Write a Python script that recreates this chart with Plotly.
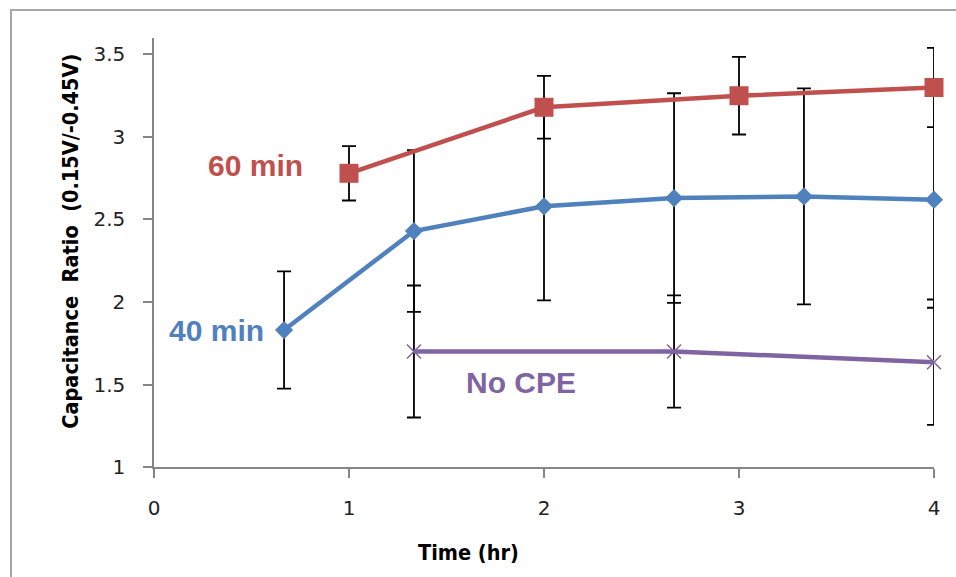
import plotly.graph_objects as go

# Time points (hr)
time_40 = [0.667, 1.333, 2, 2.667, 3.333, 4]
time_60 = [1, 2, 3, 4]
time_none = [1.333, 2.667, 4]

# Capacitance ratio (0.15V / -0.45V) and error bars
ratio_40 = [1.83, 2.43, 2.58, 2.63, 2.64, 2.62]
err_40 = [0.355, 0.49, 0.57, 0.635, 0.655, 0.655]
ratio_60 = [2.78, 3.18, 3.25, 3.30]
err_60 = [0.165, 0.19, 0.235, 0.24]
ratio_none = [1.70, 1.70, 1.635]
err_none = [0.40, 0.34, 0.38]

x_ticks = [0, 1, 2, 3, 4]
y_ticks = [1, 1.5, 2, 2.5, 3, 3.5]
y_tick_text = ["1", "1.5", "2", "2.5", "3", "3.5"]

BLUE = "#4F81BD"
RED = "#C0504D"
PURPLE = "#8064A2"

W, H = 956, 577
ML, MR, MT, MB = 154, 22, 38, 109.5
PW = W - ML - MR
PH = H - MT - MB

def err(vals):
    return dict(type="data", array=vals, visible=True, color="#000000",
                thickness=1.8, width=7)

fig = go.Figure()
fig.add_trace(go.Scatter(
    x=time_40, y=ratio_40, mode="lines+markers", name="40 min",
    line=dict(color=BLUE, width=4.5),
    marker=dict(symbol="diamond", size=14, color=BLUE),
    error_y=err(err_40), cliponaxis=False))
fig.add_trace(go.Scatter(
    x=time_none, y=ratio_none, mode="lines+markers", name="No CPE",
    line=dict(color=PURPLE, width=4.5),
    marker=dict(symbol="x-thin", size=14, color=PURPLE,
                line=dict(color=PURPLE, width=1.5)),
    error_y=err(err_none), cliponaxis=False))
fig.add_trace(go.Scatter(
    x=time_60, y=ratio_60, mode="lines+markers", name="60 min",
    line=dict(color=RED, width=4.5),
    marker=dict(symbol="square", size=19, color=RED),
    error_y=err(err_60), cliponaxis=False))

label_font = "Liberation Sans, Arial, sans-serif"
fig.add_annotation(x=0.518, y=2.83, text="<b>60 min</b>", showarrow=False,
                   font=dict(family=label_font, size=30, color=RED))
fig.add_annotation(x=0.318, y=1.83, text="<b>40 min</b>", showarrow=False,
                   font=dict(family=label_font, size=30, color=BLUE))
fig.add_annotation(x=1.882, y=1.51, text="<b>No CPE</b>", showarrow=False,
                   font=dict(family=label_font, size=30, color=PURPLE))

cond = "DejaVu Sans Condensed, DejaVu Sans, sans-serif"
fig.add_annotation(xref="paper", yref="paper", x=(71 - ML) / PW,
                   y=(H - MB - 242) / PH, xanchor="center", yanchor="middle",
                   text="<b>Capacitance  Ratio  (0.15V/-0.45V)</b>",
                   textangle=-90, showarrow=False,
                   font=dict(family=cond, size=21.5, color="#000000"))
fig.add_annotation(xref="paper", yref="paper", x=(468 - ML) / PW,
                   y=(H - MB - 553) / PH, xanchor="center", yanchor="middle",
                   text="<b>Time (hr)</b>", showarrow=False,
                   font=dict(family=cond, size=21.5, color="#000000"))

# outer chart frame (top and left edges visible)
fig.add_shape(type="rect", xref="paper", yref="paper",
              x0=(11 - ML) / PW, x1=(W + 20 - ML) / PW,
              y0=(H - MB - (H + 20)) / PH, y1=(H - MB - 10) / PH,
              line=dict(color="#A6A6A6", width=2), fillcolor="rgba(0,0,0,0)")

tick_font = dict(family="DejaVu Sans, sans-serif", size=20, color="#222222")
fig.update_xaxes(range=[0, 4], tickvals=x_ticks, ticks="outside", ticklen=9,
                 tickcolor="#868686", tickwidth=1.5, showline=True,
                 linecolor="#868686", linewidth=1.5, showgrid=False,
                 zeroline=False, tickfont=tick_font, ticklabelstandoff=13)
fig.update_yaxes(range=[1, 1 + PH / 165.2], tickvals=y_ticks, ticktext=y_tick_text,
                 ticks="outside", ticklen=9, tickcolor="#868686", tickwidth=1.5,
                 showline=True, linecolor="#868686", linewidth=1.5,
                 showgrid=False, zeroline=False, tickfont=tick_font,
                 ticklabelstandoff=14)
fig.update_layout(width=W, height=H, showlegend=False,
                  margin=dict(l=ML, r=MR, t=MT, b=MB),
                  plot_bgcolor="white", paper_bgcolor="white")

fig.write_html("out.html")
